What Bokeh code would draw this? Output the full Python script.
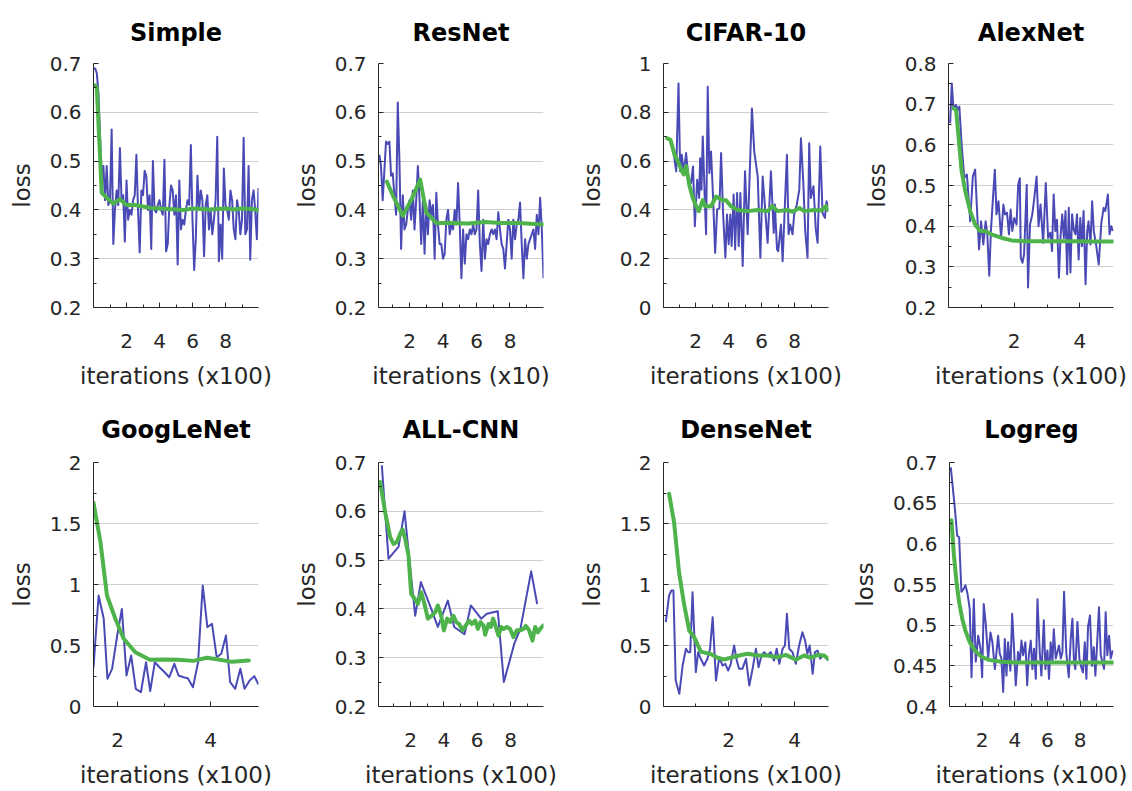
from bokeh.plotting import figure
from bokeh.layouts import column, row
from bokeh.models import Range1d, FixedTicker, CustomJSTickFormatter
from bokeh.embed import file_html
from bokeh.resources import INLINE

# ---------------- data ----------------
TITLES = ["Simple", "ResNet", "CIFAR-10", "AlexNet",
          "GoogLeNet", "ALL-CNN", "DenseNet", "Logreg"]
XLABELS = ["iterations (x100)", "iterations (x10)", "iterations (x100)", "iterations (x100)",
           "iterations (x100)", "iterations (x100)", "iterations (x100)", "iterations (x100)"]

# Simple
simple_x = [i / 10 for i in range(101)]
simple_loss = [0.69, 0.69, 0.68, 0.64, 0.55, 0.47, 0.49, 0.42, 0.49, 0.41,
               0.42, 0.565, 0.33, 0.40, 0.44, 0.41, 0.527, 0.42, 0.43, 0.335,
               0.46, 0.38, 0.40, 0.39, 0.42, 0.43, 0.513, 0.40, 0.313, 0.44,
               0.43, 0.48, 0.47, 0.40, 0.43, 0.32, 0.50, 0.40, 0.395, 0.41,
               0.42, 0.40, 0.39, 0.503, 0.315, 0.33, 0.41, 0.45, 0.44, 0.39,
               0.43, 0.288, 0.46, 0.36, 0.38, 0.37, 0.40, 0.42, 0.41, 0.533,
               0.38, 0.277, 0.34, 0.47, 0.40, 0.44, 0.42, 0.305, 0.41, 0.43,
               0.36, 0.40, 0.35, 0.38, 0.42, 0.55, 0.295, 0.37, 0.30, 0.485,
               0.41, 0.40, 0.38, 0.44, 0.42, 0.36, 0.34, 0.42, 0.40, 0.35,
               0.38, 0.548, 0.35, 0.36, 0.49, 0.298, 0.42, 0.44, 0.40, 0.34,
               0.445]
simple_avg_x = [0.1, 0.2, 0.5, 0.8, 1.2, 1.6, 2.0, 2.5, 3.0, 3.5, 4.0, 4.5, 5.0,
                5.5, 6.0, 6.5, 7.0, 7.5, 8.0, 8.5, 9.0, 9.5, 10.0]
simple_avg = [0.655, 0.65, 0.435, 0.425, 0.413, 0.422, 0.41, 0.41, 0.407, 0.404,
              0.403, 0.402, 0.401, 0.400, 0.403, 0.402, 0.401, 0.402, 0.403, 0.401,
              0.403, 0.402, 0.400]

# ResNet
resnet_x = [0.2 + i / 10 for i in range(99)]
resnet_loss = [0.513, 0.49, 0.42, 0.48, 0.54, 0.535, 0.54, 0.47, 0.475, 0.43,
               0.39, 0.62, 0.50, 0.32, 0.43, 0.36, 0.37, 0.40, 0.42, 0.38,
               0.44, 0.36, 0.42, 0.49, 0.42, 0.33, 0.42, 0.31, 0.41, 0.35,
               0.42, 0.39, 0.41, 0.30, 0.435, 0.37, 0.33, 0.33, 0.30, 0.31,
               0.38, 0.40, 0.35, 0.37, 0.36, 0.40, 0.37, 0.455, 0.37, 0.26,
               0.36, 0.29, 0.35, 0.34, 0.36, 0.35, 0.37, 0.35, 0.36, 0.44,
               0.33, 0.275, 0.38, 0.30, 0.34, 0.33, 0.35, 0.36, 0.35, 0.36,
               0.34, 0.395, 0.36, 0.33, 0.32, 0.28, 0.33, 0.38, 0.36, 0.30,
               0.38, 0.34, 0.37, 0.38, 0.415, 0.33, 0.26, 0.34, 0.30, 0.33,
               0.34, 0.35, 0.36, 0.32, 0.39, 0.35, 0.425, 0.36, 0.26]
resnet_avg_x = [0.65, 1.0, 1.6, 2.1, 2.64, 3.0, 3.6, 4.5, 5.5, 6.5, 7.5, 8.5, 9.5, 10.0]
resnet_avg = [0.458, 0.43, 0.388, 0.42, 0.462, 0.395, 0.373, 0.373, 0.372, 0.375,
              0.373, 0.373, 0.371, 0.370]

# CIFAR-10
cifar_x = [0.21, 0.51, 0.68, 0.82, 0.96, 1.06, 1.16, 1.28, 1.42, 1.56,
           1.72, 1.84, 1.95, 2.09, 2.21, 2.27, 2.35, 2.43, 2.55, 2.63,
           2.73, 2.83, 2.93, 3.03, 3.18, 3.30, 3.44, 3.54, 3.66, 3.80,
           3.90, 4.00, 4.10, 4.18, 4.30, 4.39, 4.51, 4.61, 4.71, 4.85,
           4.99, 5.15, 5.41, 5.55, 5.76, 5.92, 6.06, 6.16, 6.36, 6.56,
           6.73, 6.80, 6.93, 7.00, 7.17, 7.27, 7.53, 7.63, 7.73, 7.87,
           7.97, 8.13, 8.28, 8.38, 8.52, 8.64, 8.78, 8.88, 8.98, 9.14,
           9.28, 9.39, 9.55, 9.69, 9.83, 9.93, 10.0]
cifar_loss = [0.694, 0.687, 0.626, 0.558, 0.918, 0.558, 0.626, 0.551, 0.633, 0.531,
              0.51, 0.578, 0.333, 0.524, 0.449, 0.612, 0.483, 0.701, 0.449, 0.30,
              0.905, 0.551, 0.639, 0.49, 0.224, 0.401, 0.408, 0.633, 0.388, 0.204,
              0.381, 0.259, 0.381, 0.252, 0.463, 0.238, 0.469, 0.252, 0.469, 0.17,
              0.558, 0.30, 0.816, 0.639, 0.537, 0.204, 0.537, 0.449, 0.265, 0.558,
              0.306, 0.422, 0.238, 0.231, 0.34, 0.19, 0.626, 0.30, 0.34, 0.30,
              0.381, 0.422, 0.483, 0.694, 0.517, 0.313, 0.204, 0.673, 0.449, 0.497,
              0.32, 0.265, 0.66, 0.388, 0.367, 0.435, 0.415]
cifar_avg_x = [0.27, 0.47, 0.72, 0.92, 1.12, 1.28, 1.42, 1.62, 1.82, 2.03,
               2.19, 2.43, 2.57, 2.93, 3.24, 3.64, 3.84, 4.14, 4.55, 5.15,
               5.76, 6.36, 6.66, 6.96, 7.57, 7.87, 8.28, 8.58, 9.18, 9.59,
               9.9, 10.0]
cifar_avg = [0.694, 0.687, 0.626, 0.60, 0.565, 0.545, 0.58, 0.50, 0.45, 0.415,
             0.395, 0.44, 0.415, 0.415, 0.455, 0.44, 0.44, 0.415, 0.40, 0.395,
             0.40, 0.395, 0.415, 0.395, 0.40, 0.392, 0.408, 0.395, 0.40, 0.397,
             0.415, 0.40]

# AlexNet
alexnet_x = [0.05, 0.10, 0.15, 0.23, 0.28, 0.33, 0.40, 0.48, 0.56, 0.61,
             0.66, 0.74, 0.81, 0.88, 0.93, 0.99, 1.06, 1.13, 1.18, 1.24,
             1.29, 1.34, 1.41, 1.46, 1.52, 1.60, 1.67, 1.72, 1.78, 1.84,
             1.89, 1.94, 2.00, 2.07, 2.12, 2.17, 2.20, 2.25, 2.30, 2.38,
             2.42, 2.48, 2.55, 2.61, 2.68, 2.74, 2.80, 2.88, 2.96, 3.03,
             3.10, 3.15, 3.20, 3.25, 3.30, 3.36, 3.41, 3.46, 3.51, 3.56,
             3.61, 3.66, 3.71, 3.76, 3.81, 3.86, 3.91, 3.96, 4.01, 4.06,
             4.11, 4.17, 4.22, 4.26, 4.32, 4.37, 4.42, 4.49, 4.57, 4.65,
             4.72, 4.77, 4.85, 4.90, 4.95, 5.00]
alexnet_loss = [0.653, 0.751, 0.69, 0.698, 0.686, 0.694, 0.60, 0.518, 0.527, 0.469,
                0.412, 0.522, 0.539, 0.42, 0.343, 0.412, 0.355, 0.412, 0.38, 0.278,
                0.388, 0.453, 0.539, 0.429, 0.461, 0.371, 0.453, 0.429, 0.433, 0.38,
                0.441, 0.388, 0.42, 0.404, 0.502, 0.518, 0.322, 0.31, 0.331, 0.502,
                0.249, 0.404, 0.429, 0.469, 0.522, 0.40, 0.453, 0.359, 0.506, 0.371,
                0.384, 0.339, 0.478, 0.388, 0.416, 0.273, 0.376, 0.429, 0.371, 0.437,
                0.282, 0.445, 0.286, 0.429, 0.392, 0.38, 0.429, 0.318, 0.42, 0.351,
                0.437, 0.257, 0.388, 0.412, 0.355, 0.461, 0.388, 0.355, 0.306, 0.408,
                0.445, 0.437, 0.478, 0.38, 0.40, 0.388]
alexnet_avg_x = [0.15, 0.23, 0.30, 0.40, 0.51, 0.66, 0.81, 0.96, 1.11, 1.31,
                 1.62, 1.92, 2.32, 2.83, 3.33, 3.84, 4.34, 5.0]
alexnet_avg = [0.69, 0.686, 0.625, 0.535, 0.486, 0.437, 0.404, 0.388, 0.388, 0.38,
               0.371, 0.365, 0.363, 0.363, 0.363, 0.363, 0.362, 0.362]

# GoogLeNet
googlenet_x = [1.48, 1.59, 1.70, 1.78, 1.88, 1.99, 2.09, 2.19, 2.29, 2.39,
               2.50, 2.61, 2.70, 2.80, 2.90, 3.01, 3.11, 3.22, 3.31, 3.42,
               3.51, 3.62, 3.73, 3.83, 3.93, 4.03, 4.13, 4.23, 4.33, 4.42,
               4.53, 4.64, 4.73, 4.84, 4.94, 5.03]
googlenet_loss = [0.322, 0.91, 0.719, 0.227, 0.309, 0.582, 0.80, 0.254, 0.418, 0.145,
                  0.117, 0.363, 0.126, 0.363, 0.322, 0.281, 0.24, 0.35, 0.254, 0.24,
                  0.232, 0.158, 0.363, 0.992, 0.65, 0.678, 0.404, 0.432, 0.582, 0.199,
                  0.145, 0.309, 0.145, 0.213, 0.249, 0.18]
googlenet_avg_x = [1.48, 1.63, 1.77, 1.95, 2.13, 2.38, 2.69, 3.03, 3.31, 3.63,
                   3.92, 4.17, 4.46, 4.82]
googlenet_avg = [1.669, 1.347, 0.91, 0.719, 0.555, 0.445, 0.383, 0.385, 0.383, 0.374,
                 0.399, 0.385, 0.366, 0.377]

# ALL-CNN
allcnn_x = [0.28, 0.68, 1.28, 1.64, 2.28, 2.62, 3.28, 3.64, 4.24, 4.62,
            5.24, 5.62, 6.24, 6.58, 7.24, 7.6, 8.24, 8.6, 9.24, 9.6]
allcnn_loss = [0.694, 0.503, 0.527, 0.60, 0.386, 0.455, 0.397, 0.363, 0.417, 0.363,
               0.348, 0.407, 0.38, 0.39, 0.395, 0.25, 0.33, 0.36, 0.477, 0.41]
allcnn_avg_x = [0.18, 0.48, 0.78, 0.98, 1.18, 1.38, 1.52, 1.68, 1.88, 2.04,
                 2.24, 2.44, 2.64, 2.84, 3.04, 3.28, 3.48, 3.64, 3.84, 4.0,
                 4.2, 4.38, 4.58, 4.74, 4.92, 5.12, 5.32, 5.52, 5.68, 5.88,
                 6.04, 6.2, 6.38, 6.48, 6.68, 6.82, 6.96, 7.12, 7.28, 7.44,
                 7.58, 7.78, 7.98, 8.18, 8.38, 8.58, 8.78, 8.92, 9.12, 9.32,
                 9.48, 9.64, 9.78, 9.98]
allcnn_avg = [0.66, 0.598, 0.547, 0.533, 0.537, 0.554, 0.563, 0.544, 0.509, 0.431,
              0.421, 0.41, 0.434, 0.41, 0.38, 0.386, 0.393, 0.407, 0.386, 0.356,
              0.38, 0.373, 0.386, 0.373, 0.369, 0.356, 0.366, 0.376, 0.369, 0.376,
              0.359, 0.373, 0.366, 0.347, 0.369, 0.363, 0.38, 0.363, 0.345, 0.363,
              0.359, 0.363, 0.359, 0.342, 0.356, 0.356, 0.359, 0.365, 0.356, 0.335,
              0.363, 0.352, 0.359, 0.366]

# DenseNet
densenet_x = [0.10, 0.20, 0.27, 0.33, 0.40, 0.51, 0.61, 0.71, 0.78, 0.84,
              0.91, 1.01, 1.08, 1.16, 1.26, 1.36, 1.44, 1.52, 1.62, 1.72,
              1.82, 1.90, 1.99, 2.07, 2.17, 2.25, 2.32, 2.42, 2.53, 2.63,
              2.73, 2.83, 2.91, 3.00, 3.08, 3.18, 3.28, 3.38, 3.46, 3.54,
              3.64, 3.71, 3.77, 3.84, 3.94, 4.04, 4.14, 4.24, 4.32, 4.39,
              4.46, 4.55, 4.62, 4.70, 4.78, 4.85, 4.93, 5.02]
densenet_loss = [0.691, 0.91, 0.951, 0.951, 0.213, 0.104, 0.336, 0.473, 0.445, 0.445,
                 0.937, 0.281, 0.445, 0.391, 0.336, 0.391, 0.473, 0.732, 0.213, 0.404,
                 0.336, 0.35, 0.295, 0.35, 0.50, 0.377, 0.309, 0.309, 0.391, 0.172,
                 0.309, 0.473, 0.322, 0.418, 0.445, 0.418, 0.445, 0.377, 0.473, 0.35,
                 0.473, 0.50, 0.76, 0.473, 0.445, 0.35, 0.50, 0.609, 0.541, 0.432,
                 0.50, 0.268, 0.445, 0.459, 0.391, 0.418, 0.404, 0.377]
densenet_avg_x = [0.2, 0.35, 0.5, 0.66, 0.81, 0.96, 1.16, 1.31, 1.46, 1.67,
                  1.87, 2.07, 2.32, 2.58, 2.88, 3.18, 3.48, 3.74, 4.04, 4.29,
                  4.49, 4.7, 4.9, 5.02]
densenet_avg = [1.743, 1.511, 1.101, 0.828, 0.623, 0.568, 0.45, 0.44, 0.43, 0.40,
                0.385, 0.40, 0.418, 0.432, 0.418, 0.418, 0.404, 0.423, 0.383, 0.418,
                0.399, 0.423, 0.418, 0.391]

# Logreg
logreg_x = [0.08, 0.33, 0.47, 0.59, 0.73, 0.88, 0.98, 1.10, 1.24, 1.35,
            1.49, 1.61, 1.76, 1.90, 2.0, 2.10, 2.22, 2.37, 2.51, 2.63,
            2.78, 2.88, 2.98, 3.08, 3.18, 3.29, 3.39, 3.49, 3.59, 3.73,
            3.84, 3.96, 4.06, 4.20, 4.31, 4.41, 4.51, 4.65, 4.76, 4.86,
            4.98, 5.08, 5.18, 5.29, 5.39, 5.53, 5.63, 5.78, 5.88, 6.0,
            6.10, 6.20, 6.31, 6.39, 6.51, 6.61, 6.71, 6.82, 6.92, 7.02,
            7.16, 7.31, 7.43, 7.53, 7.63, 7.71, 7.84, 7.96, 8.08, 8.18,
            8.29, 8.39, 8.49, 8.61, 8.73, 8.84, 8.94, 9.06, 9.16, 9.27,
            9.37, 9.47, 9.57, 9.67, 9.78, 9.88, 10.0]
logreg_loss = [0.694, 0.643, 0.610, 0.608, 0.541, 0.545, 0.549, 0.539, 0.520, 0.436,
               0.532, 0.455, 0.487, 0.471, 0.436, 0.526, 0.502, 0.459, 0.491, 0.479,
               0.446, 0.467, 0.487, 0.465, 0.459, 0.418, 0.483, 0.438, 0.479, 0.444,
               0.514, 0.469, 0.426, 0.467, 0.455, 0.481, 0.463, 0.479, 0.426, 0.463,
               0.481, 0.446, 0.471, 0.434, 0.532, 0.467, 0.438, 0.506, 0.446, 0.469,
               0.434, 0.479, 0.455, 0.495, 0.459, 0.467, 0.475, 0.459, 0.467, 0.541,
               0.465, 0.436, 0.483, 0.508, 0.455, 0.446, 0.504, 0.459, 0.448, 0.442,
               0.479, 0.434, 0.498, 0.512, 0.450, 0.473, 0.438, 0.483, 0.522, 0.463,
               0.455, 0.446, 0.516, 0.463, 0.487, 0.459, 0.469]
logreg_avg_x = [0.12, 0.27, 0.43, 0.59, 0.78, 0.98, 1.24, 1.55, 1.96, 2.47,
                3.18, 4.0, 5.63, 7.67, 10.0]
logreg_avg = [0.629, 0.586, 0.553, 0.528, 0.508, 0.493, 0.479, 0.469, 0.461, 0.457,
              0.455, 0.454, 0.454, 0.454, 0.454]

# axis ranges and tick values per panel
X_RANGES = [(0, 10), (0.15, 10), (0.05, 10.05), (0, 5.02),
            (1.48, 5.03), (0.08, 9.98), (0.03, 5.03), (0, 10.05)]
Y_RANGES = [(0.2, 0.7), (0.2, 0.7), (0, 1), (0.2, 0.8),
            (0, 2), (0.2, 0.7), (0, 2), (0.4, 0.7)]
X_TICKS = [[2, 4, 6, 8], [2, 4, 6, 8], [2, 4, 6, 8], [2, 4],
           [2, 4], [2, 4, 6, 8], [2, 4], [2, 4, 6, 8]]
X_MINOR = [[1, 3, 5, 7, 9], [1, 3, 5, 7, 9], [1, 3, 5, 7, 9], [1, 3],
           [3], [1, 3, 5, 7, 9], [1, 3], [1, 3, 5, 7, 9]]
Y_TICKS = [[0.2, 0.3, 0.4, 0.5, 0.6, 0.7],
           [0.2, 0.3, 0.4, 0.5, 0.6, 0.7],
           [0, 0.2, 0.4, 0.6, 0.8, 1],
           [0.2, 0.3, 0.4, 0.5, 0.6, 0.7, 0.8],
           [0, 0.5, 1, 1.5, 2],
           [0.2, 0.3, 0.4, 0.5, 0.6, 0.7],
           [0, 0.5, 1, 1.5, 2],
           [0.4, 0.45, 0.5, 0.55, 0.6, 0.65, 0.7]]

SERIES = [(simple_x, simple_loss, simple_avg_x, simple_avg),
          (resnet_x, resnet_loss, resnet_avg_x, resnet_avg),
          (cifar_x, cifar_loss, cifar_avg_x, cifar_avg),
          (alexnet_x, alexnet_loss, alexnet_avg_x, alexnet_avg),
          (googlenet_x, googlenet_loss, googlenet_avg_x, googlenet_avg),
          (allcnn_x, allcnn_loss, allcnn_avg_x, allcnn_avg),
          (densenet_x, densenet_loss, densenet_avg_x, densenet_avg),
          (logreg_x, logreg_loss, logreg_avg_x, logreg_avg)]

# ---------------- layout / style ----------------
COL_W = [278, 285, 285, 283]
COL_BL = [93, 100, 100, 100]
COL_BR = [20, 20, 20, 18]
ROW_H = [395, 395]
ROW_BT = [63, 67]
ROW_BB = [88, 84]
TITLE_STANDOFF = [31, 35]

FONT = "DejaVu Sans"
BLUE = "#4a4ab6"
GREEN = "#4db34a"
INK = "#262626"

fmt = CustomJSTickFormatter(code="return Number(tick.toFixed(3)).toString();")


def make_panel(k):
    r, c = divmod(k, 4)
    bx, by, gx, gy = SERIES[k]
    p = figure(width=COL_W[c], height=ROW_H[r],
               x_range=Range1d(*X_RANGES[k]), y_range=Range1d(*Y_RANGES[k]),
               toolbar_location=None, output_backend="svg",
               min_border_left=COL_BL[c], min_border_right=COL_BR[c],
               min_border_top=ROW_BT[r], min_border_bottom=ROW_BB[r])
    p.outline_line_color = None
    p.background_fill_color = "white"
    p.border_fill_color = "white"

    p.title.text = TITLES[k]
    p.title.align = "center"
    p.title.vertical_align = "middle"
    p.title.text_font = FONT
    p.title.text_font_style = "bold"
    p.title.text_font_size = "24px"
    p.title.text_color = "black"
    p.title.standoff = TITLE_STANDOFF[r]

    p.line(bx, by, color=BLUE, line_width=2, line_join="round")
    p.line(gx, gy, color=GREEN, line_width=4, line_join="round", line_cap="round")

    yt = Y_TICKS[k]
    yminor = [(a + b) / 2 for a, b in zip(yt[:-1], yt[1:])]
    p.xaxis.ticker = FixedTicker(ticks=X_TICKS[k], minor_ticks=X_MINOR[k])
    p.yaxis.ticker = FixedTicker(ticks=yt, minor_ticks=yminor)
    p.yaxis.formatter = fmt
    p.xaxis.axis_label = XLABELS[k]
    p.yaxis.axis_label = "loss"

    for ax in (p.xaxis, p.yaxis):
        ax.axis_line_color = INK
        ax.axis_line_width = 1
        ax.major_tick_line_color = INK
        ax.minor_tick_line_color = INK
        ax.major_tick_in = 5
        ax.major_tick_out = 0
        ax.minor_tick_in = 3
        ax.minor_tick_out = 0
        ax.major_label_text_font = FONT
        ax.major_label_text_font_size = "20px"
        ax.major_label_text_color = INK
        ax.axis_label_text_font = FONT
        ax.axis_label_text_font_size = "23px"
        ax.axis_label_text_font_style = "normal"
        ax.axis_label_text_color = INK
    p.xaxis.major_label_standoff = 26
    p.xaxis.axis_label_standoff = 12
    p.yaxis.major_label_standoff = 12
    p.yaxis.axis_label_standoff = 12

    p.xgrid.grid_line_color = None
    p.ygrid.grid_line_color = "#cfcfcf"
    p.ygrid.grid_line_width = 1.2
    return p


panels = [make_panel(k) for k in range(8)]
layout = column(row(*panels[:4]), row(*panels[4:]))

open("out.html", "w").write(file_html(layout, INLINE))
